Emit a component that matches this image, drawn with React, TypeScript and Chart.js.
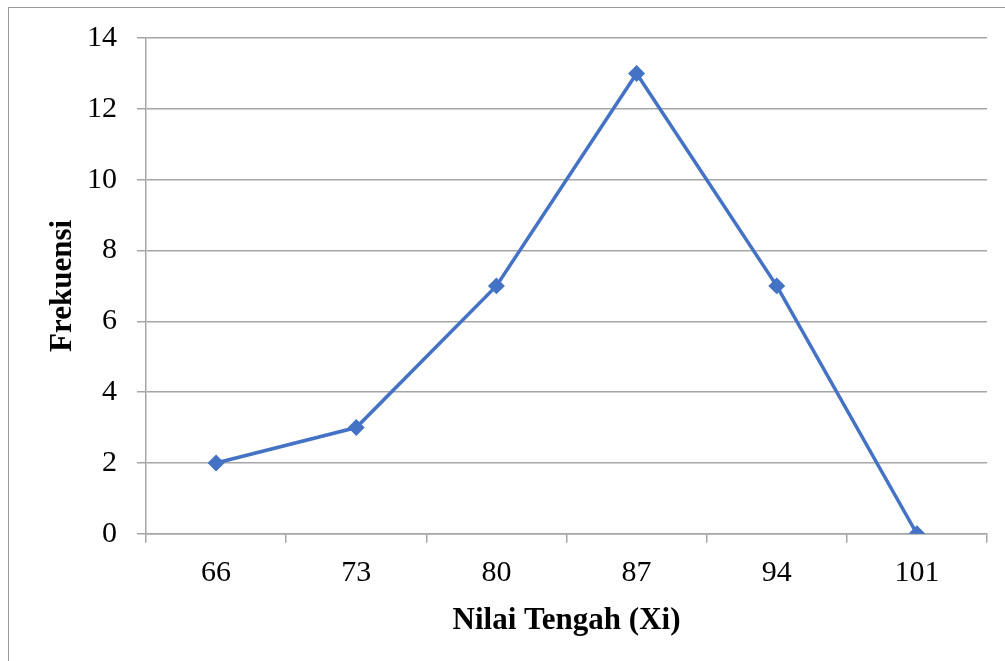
import React, { useEffect, useRef } from "react";
import { Chart, registerables } from "chart.js";

Chart.register(...registerables);

const categories: string[] = ["66", "73", "80", "87", "94", "101"];
const frekuensi: number[] = [2, 3, 7, 13, 7, 0];
const xTitle = "Nilai Tengah (Xi)";
const yTitle = "Frekuensi";

export default function App() {
  const ref = useRef<HTMLCanvasElement | null>(null);

  useEffect(() => {
    if (!ref.current) return;
    const font = "'Liberation Serif', 'Times New Roman', serif";
    const chart = new Chart(ref.current, {
      type: "line",
      data: {
        labels: categories,
        datasets: [
          {
            label: yTitle,
            data: frekuensi,
            borderColor: "#4472C4",
            backgroundColor: "#4472C4",
            borderWidth: 3.5,
            pointStyle: "rectRot",
            pointRadius: 6,
            pointHoverRadius: 6,
            tension: 0,
            fill: false,
          },
        ],
      },
      options: {
        animation: false,
        responsive: false,
        maintainAspectRatio: false,
        layout: { padding: { left: 44, right: 18, top: 38, bottom: 21 } },
        plugins: {
          legend: { display: false },
          tooltip: { enabled: false },
        },
        scales: {
          x: {
            type: "category",
            offset: true,
            grid: {
              offset: true,
              drawOnChartArea: false,
              drawTicks: true,
              tickLength: 9,
              color: "#a6a6a6",
              lineWidth: 1.5,
            },
            border: { color: "#a6a6a6", width: 1.5 },
            ticks: {
              color: "#000",
              font: { family: font, size: 30 },
              padding: 12,
              maxRotation: 0,
            },
            title: {
              display: true,
              text: xTitle,
              color: "#000",
              font: { family: font, size: 31, weight: "bold" },
              padding: { top: 0, bottom: 0 },
            },
          },
          y: {
            min: 0,
            max: 14,
            afterFit: (scale: any) => {
              scale.width = 102;
            },
            ticks: {
              stepSize: 2,
              color: "#000",
              font: { family: font, size: 30 },
              padding: 20,
            },
            grid: {
              color: "#a6a6a6",
              lineWidth: 1.5,
              drawTicks: true,
              tickLength: 9,
            },
            border: { color: "#a6a6a6", width: 1.5 },
            title: {
              display: true,
              text: yTitle,
              color: "#000",
              font: { family: font, size: 31, weight: "bold" },
              padding: { top: 0, bottom: 0 },
            },
          },
        },
      },
    });
    return () => chart.destroy();
  }, []);

  return (
    <div
      style={{
        position: "fixed",
        left: 0,
        top: 0,
        width: 1005,
        height: 661,
        background: "#fff",
        overflow: "hidden",
      }}
    >
      <div
        style={{
          position: "absolute",
          left: 8,
          top: 7,
          width: 1010,
          height: 670,
          borderLeft: "1.5px solid #9a9a9a",
          borderTop: "1.5px solid #9a9a9a",
        }}
      />
      <canvas
        ref={ref}
        width={1005}
        height={661}
        style={{ position: "absolute", left: 0, top: 0, width: 1005, height: 661 }}
      />
    </div>
  );
}
